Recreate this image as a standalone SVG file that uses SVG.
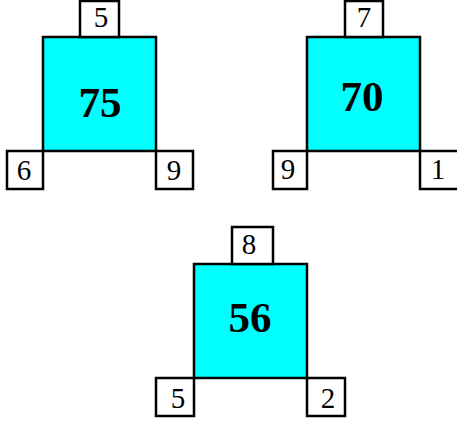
<svg xmlns="http://www.w3.org/2000/svg" width="457" height="423" viewBox="0 0 457 423">
<style>
.sq{fill:#00FFFF;stroke:#000;stroke-width:2.5}
.bx{fill:#fff;stroke:#000;stroke-width:2.5}
.big{font-family:"Liberation Serif","Times New Roman",serif;font-weight:bold;font-size:43px;text-anchor:middle;fill:#000}
.sm{font-family:"Liberation Serif","Times New Roman",serif;font-size:29px;text-anchor:middle;fill:#000}
</style>
<rect width="457" height="423" fill="#fff"/>
<g id="fig1">
  <g id="fig1-center"><rect class="sq" x="43" y="37" width="113" height="114"/><text class="big" x="100" y="117">75</text></g>
  <g id="fig1-top"><rect class="bx" x="80" y="1" width="39" height="36"/><text class="sm" x="101" y="27">5</text></g>
  <g id="fig1-left"><rect class="bx" x="7" y="151" width="36" height="38"/><text class="sm" x="24" y="180">6</text></g>
  <g id="fig1-right"><rect class="bx" x="156" y="151" width="37" height="38"/><text class="sm" x="174" y="180">9</text></g>
</g>
<g id="fig2">
  <g id="fig2-center"><rect class="sq" x="307" y="37" width="113" height="114"/><text class="big" x="362" y="111">70</text></g>
  <g id="fig2-top"><rect class="bx" x="345" y="1" width="38" height="36"/><text class="sm" x="364" y="27">7</text></g>
  <g id="fig2-left"><rect class="bx" x="273" y="151" width="34" height="38"/><text class="sm" x="288" y="179">9</text></g>
  <g id="fig2-right"><rect class="bx" x="420" y="151" width="40" height="38"/><text class="sm" x="438" y="179">1</text></g>
</g>
<g id="fig3">
  <g id="fig3-center"><rect class="sq" x="194" y="264" width="113" height="114"/><text class="big" x="250" y="332">56</text></g>
  <g id="fig3-top"><rect class="bx" x="232" y="227" width="41" height="37"/><text class="sm" x="249" y="254">8</text></g>
  <g id="fig3-left"><rect class="bx" x="156" y="378" width="38" height="38"/><text class="sm" x="178" y="408">5</text></g>
  <g id="fig3-right"><rect class="bx" x="307" y="378" width="38" height="38"/><text class="sm" x="328" y="408">2</text></g>
</g>
<g id="connectors"/>
</svg>
